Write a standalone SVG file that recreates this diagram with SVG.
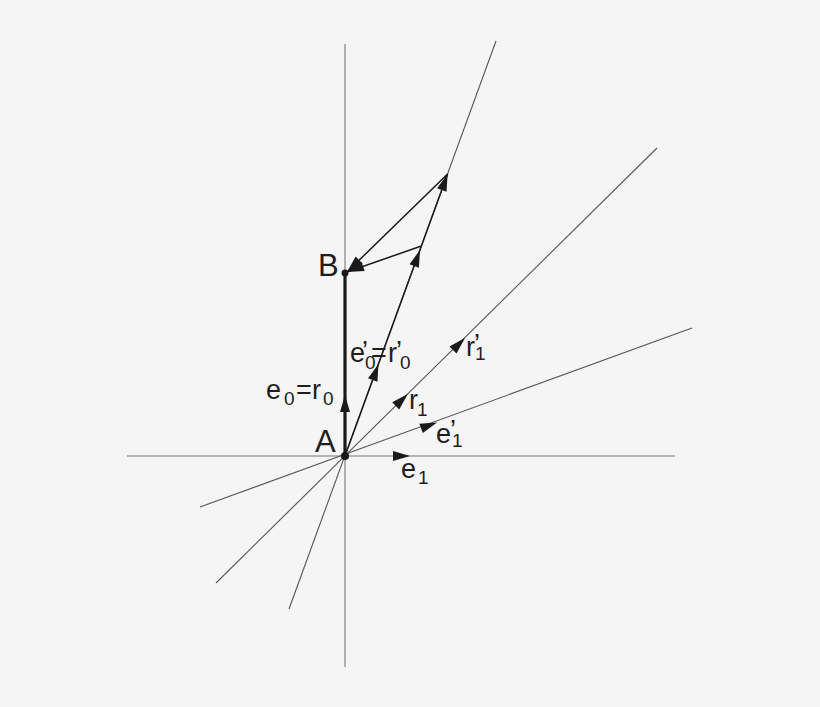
<svg xmlns="http://www.w3.org/2000/svg" width="820" height="707" viewBox="0 0 820 707">
<style>
.ax{stroke:#777;stroke-width:1.1;fill:none}
.ln{stroke:#555;stroke-width:1.1;fill:none}
.vec{stroke:#1a1a1a;stroke-width:1.5;fill:none}
.thick{stroke:#1a1a1a;stroke-width:3.2;fill:none}
.hd{stroke:none;fill:none;marker-end:url(#ah)}
text{font-family:"Liberation Sans",Arial,sans-serif;fill:#1e1e1e}
.m{font-size:27px}
.s{font-size:19px}
.big{font-size:31px}
</style>
<defs>
<marker id="ah" markerUnits="userSpaceOnUse" markerWidth="20" markerHeight="14" viewBox="-18 -7 20 14" refX="0" refY="0" orient="auto">
<path d="M0,0 L-17,-5 L-17,5 Z" fill="#1a1a1a"/>
</marker>
</defs>
<rect width="820" height="707" fill="#f5f5f5"/>
<g id="connectors">
<line class="ax" x1="127" y1="456" x2="675" y2="456"/>
<line class="ax" x1="345" y1="44" x2="345" y2="667"/>
<line class="ln" x1="289" y1="609" x2="496" y2="41"/>
<line class="ln" x1="216" y1="583" x2="657" y2="148"/>
<line class="ln" x1="200" y1="507" x2="692" y2="328"/>
<line class="thick" x1="345" y1="456" x2="345" y2="273"/>
<line class="vec" x1="345" y1="456" x2="447.6" y2="174"/>
<line class="vec" x1="447.6" y1="174" x2="347" y2="272"/>
<line class="vec" x1="421.4" y1="246" x2="347" y2="272"/>
<path class="hd" d="M345,405 L345,395"/>
<path class="hd" d="M375.1,373.4 L378.5,364"/>
<path class="hd" d="M416.6,259.4 L420,250"/>
<path class="hd" d="M444.2,183.4 L447.6,174"/>
<path class="hd" d="M357,262.3 L347,272"/>
<path class="hd" d="M357,268.5 L347,272"/>
<path class="hd" d="M400.7,401 L407.8,394"/>
<path class="hd" d="M458,345 L465,338"/>
<path class="hd" d="M427.6,426 L437,422.5"/>
<path class="hd" d="M400,456 L410,456"/>
</g>
<g id="A">
<circle cx="345" cy="456" r="4" fill="#1a1a1a"/>
<text class="big" x="315" y="452">A</text>
</g>
<g id="B">
<circle cx="345" cy="273" r="3.5" fill="#1a1a1a"/>
<text class="big" x="318" y="276">B</text>
</g>
<g id="label-e0">
<text class="m" x="266" y="399">e<tspan class="s" x="284" y="405">0</tspan><tspan x="296" y="399">=</tspan><tspan x="312" y="399">r</tspan><tspan class="s" x="323" y="405">0</tspan></text>
</g>
<g id="label-e0p">
<text class="m" x="350" y="362">e<tspan x="362" y="360">’</tspan><tspan class="s" x="365" y="369">0</tspan><tspan x="371" y="362">=</tspan><tspan x="388" y="362">r</tspan><tspan x="396" y="360">’</tspan><tspan class="s" x="400" y="369">0</tspan></text>
</g>
<g id="label-r1">
<text class="m" x="409" y="409">r<tspan class="s" x="417" y="416">1</tspan></text>
</g>
<g id="label-r1p">
<text class="m" x="466" y="356">r<tspan x="474" y="353">’</tspan><tspan class="s" x="475" y="360">1</tspan></text>
</g>
<g id="label-e1p">
<text class="m" x="436" y="443">e<tspan x="450" y="439">’</tspan><tspan class="s" x="452" y="447">1</tspan></text>
</g>
<g id="label-e1">
<text class="m" x="401" y="478">e<tspan class="s" x="418" y="484">1</tspan></text>
</g>
</svg>
